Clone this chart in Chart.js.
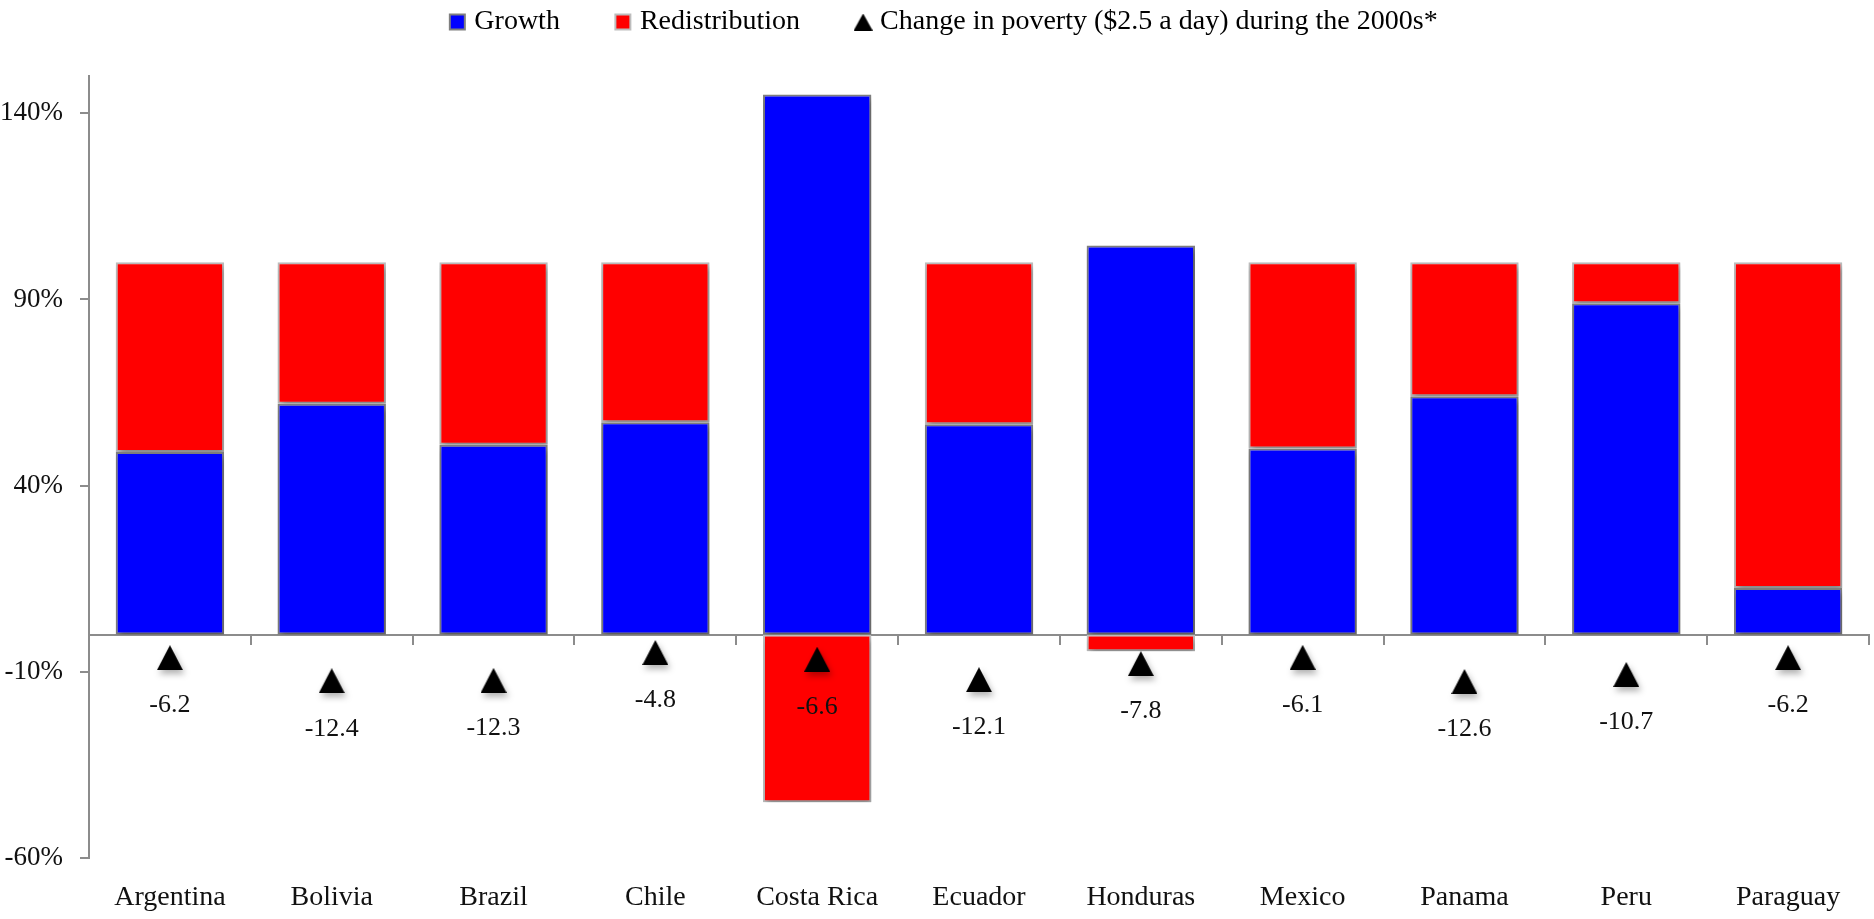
<!DOCTYPE html>
<html>
<head>
<meta charset="utf-8">
<script src="https://cdn.jsdelivr.net/npm/chart.js@4.4.1/dist/chart.umd.min.js"></script>
<style>
  body { margin: 0; background: #fff; }
</style>
</head>
<body>
<canvas id="chart" width="1874" height="919"></canvas>
<script>
// data
const countries = ["Argentina", "Bolivia", "Brazil", "Chile", "Costa Rica", "Ecuador",
  "Honduras", "Mexico", "Panama", "Peru", "Paraguay"];
const growth = [49, 62, 51, 57, 145, 56.5, 104.5, 50, 64, 89, 12.5];
const redistribution = [51, 38, 49, 43, -45, 43.5, -4.5, 50, 36, 11, 87.5];
const povertyChange = [-6.2, -12.4, -12.3, -4.8, -6.6, -12.1, -7.8, -6.1, -12.6, -10.7, -6.2];
const yTicks = [-60, -10, 40, 90, 140];

const FONT = "'Liberation Serif', 'DejaVu Serif', serif";
const AXIS_GREY = "#8c8c8c";

// triangle marker drawn into a small canvas
function makeTriangle(w, h) {
  const c = document.createElement("canvas");
  c.width = w;
  c.height = h;
  const ctx = c.getContext("2d");
  ctx.fillStyle = "#000";
  ctx.beginPath();
  ctx.moveTo(w / 2, 0);
  ctx.lineTo(w, h);
  ctx.lineTo(0, h);
  ctx.closePath();
  ctx.fill();
  return c;
}
const bigTriangle = makeTriangle(26, 25);
const smallTriangle = makeTriangle(19, 17);

// soft drop shadow under the bars and markers
const shadowPlugin = {
  id: "shadow",
  beforeDatasetsDraw(chart) {
    const ctx = chart.ctx;
    ctx.save();
    ctx.shadowColor = "rgba(0,0,0,0.3)";
    ctx.shadowBlur = 6;
    ctx.shadowOffsetX = 2;
    ctx.shadowOffsetY = 4;
  },
  afterDatasetsDraw(chart) {
    chart.ctx.restore();
  },
};

// push the plot down below the legend, nudge legend a bit right
const legendSpace = {
  id: "legendSpace",
  beforeInit(chart) {
    const legend = chart.legend;
    const origFit = legend.fit;
    legend.fit = function () {
      origFit.call(this);
      this.height += 30;
    };
    const origDraw = legend.draw;
    legend.draw = function () {
      this.left += 10;
      this.right += 10;
      origDraw.call(this);
      this.left -= 10;
      this.right -= 10;
    };
  },
};

// value labels under each triangle
const valueLabels = {
  id: "valueLabels",
  afterDraw(chart) {
    const ctx = chart.ctx;
    const meta = chart.getDatasetMeta(2);
    ctx.save();
    ctx.font = "26px " + FONT;
    ctx.fillStyle = "#111";
    ctx.textAlign = "center";
    ctx.textBaseline = "middle";
    meta.data.forEach((pt, i) => {
      ctx.fillText(povertyChange[i].toFixed(1), pt.x, pt.y + 48);
    });
    ctx.restore();
  },
};

new Chart(document.getElementById("chart"), {
  data: {
    labels: countries,
    datasets: [
      {
        type: "bar",
        label: "Growth",
        data: growth,
        backgroundColor: "#0000ff",
        borderColor: "#7f7f7f",
        borderWidth: 2,
        borderSkipped: false,
        pointStyle: "rect",
        stack: "decomp",
        order: 1,
      },
      {
        type: "bar",
        label: "Redistribution",
        data: redistribution,
        backgroundColor: "#ff0000",
        borderColor: "#bdbdbd",
        borderWidth: 2,
        borderSkipped: false,
        pointStyle: "rect",
        stack: "decomp",
        order: 2,
      },
      {
        type: "line",
        label: "Change in poverty ($2.5 a day) during the 2000s*",
        data: povertyChange,
        showLine: false,
        pointStyle: bigTriangle,
        backgroundColor: "#000",
        borderColor: "#000",
        stack: "poverty",
        order: 0,
      },
    ],
  },
  options: {
    responsive: false,
    animation: false,
    layout: { padding: { left: 0, right: 2, top: -52, bottom: 1 } },
    datasets: {
      bar: { categoryPercentage: 1, barPercentage: 0.67 },
    },
    plugins: {
      tooltip: { enabled: false },
      legend: {
        position: "top",
        labels: {
          usePointStyle: true,
          boxWidth: 6,
          boxHeight: 15,
          padding: 60,
          color: "#000",
          font: { family: FONT, size: 28 },
          generateLabels(chart) {
            const items = Chart.defaults.plugins.legend.labels.generateLabels(chart);
            items.sort((a, b) => a.datasetIndex - b.datasetIndex);
            items.forEach((it) => {
              if (it.datasetIndex === 2) it.pointStyle = smallTriangle;
            });
            return items;
          },
        },
      },
    },
    scales: {
      x: {
        stacked: true,
        grid: { display: false },
        border: { display: false },
        afterFit(scale) {
          scale.height = 60;
        },
        ticks: {
          padding: 15,
          color: "#111",
          font: { family: FONT, size: 28 },
        },
      },
      x2: {
        type: "category",
        position: { y: 0 },
        offset: true,
        afterFit(scale) {
          scale.height = 0;
        },
        grid: {
          offset: true,
          drawOnChartArea: false,
          tickLength: 9,
          color: AXIS_GREY,
          lineWidth: 2,
        },
        border: { color: AXIS_GREY, width: 2 },
        ticks: { display: false },
      },
      y: {
        stacked: true,
        min: -60,
        max: 150,
        afterBuildTicks(axis) {
          axis.ticks = yTicks.map((v) => ({ value: v }));
        },
        afterFit(scale) {
          scale.width = 89;
        },
        grid: {
          drawOnChartArea: false,
          tickLength: 9,
          color: AXIS_GREY,
          lineWidth: 2,
        },
        border: { color: AXIS_GREY, width: 2 },
        ticks: {
          padding: 17,
          color: "#111",
          font: { family: FONT, size: 27 },
          callback: (v) => v + "%",
        },
      },
    },
  },
  plugins: [shadowPlugin, legendSpace, valueLabels],
});
</script>
</body>
</html>
